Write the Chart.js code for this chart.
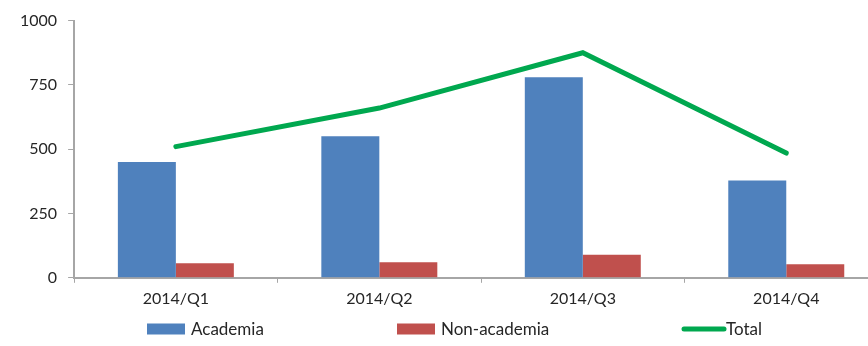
<!DOCTYPE html>
<html lang="en">
<head>
<meta charset="UTF-8">
<title>Academia vs Non-academia by Quarter</title>
<script src="https://cdn.jsdelivr.net/npm/chart.js"></script>
<style>
  body { margin: 0; background: #fff; overflow: hidden; }
  #wrap { width: 868px; height: 346px; overflow: hidden; }
</style>
</head>
<body>
<div id="wrap">
  <canvas id="chart" width="888" height="346"></canvas>
</div>

<script>
  // quarterly counts
  const quarters = ['2014/Q1', '2014/Q2', '2014/Q3', '2014/Q4'];
  const academia = [450, 550, 780, 378];
  const nonAcademia = [57, 60, 90, 53];
  const total = [510, 660, 875, 485];
  const yTicks = [0, 250, 500, 750, 1000];

  const axisGrey = '#a6a6a6';
  const textColor = '#262626';
  const fontFamily = 'Lato, "Liberation Sans", sans-serif';
  const font = { family: fontFamily, size: 16 };

  // legend laid out in fixed slots along the bottom, like the spreadsheet one
  const slotLegend = {
    id: 'slotLegend',
    afterDraw(chart, args, opts) {
      const ctx = chart.ctx;
      ctx.save();
      ctx.font = `${opts.fontSize}px ${fontFamily}`;
      ctx.textBaseline = 'middle';
      ctx.fillStyle = textColor;
      chart.data.datasets.forEach((ds, i) => {
        const x = opts.slots[i];
        const y = opts.y;
        if (ds.type === 'line') {
          ctx.strokeStyle = ds.borderColor;
          ctx.lineWidth = ds.borderWidth;
          ctx.lineCap = 'round';
          ctx.beginPath();
          ctx.moveTo(x + 2, y);
          ctx.lineTo(x + opts.boxWidth + 4, y);
          ctx.stroke();
        } else {
          ctx.fillStyle = ds.backgroundColor;
          ctx.fillRect(x, y - opts.boxHeight / 2, opts.boxWidth, opts.boxHeight);
        }
        ctx.fillStyle = textColor;
        ctx.fillText(ds.label, x + opts.boxWidth + 6, y + 1);
      });
      ctx.restore();
    }
  };

  new Chart(document.getElementById('chart'), {
    type: 'bar',
    data: {
      labels: quarters,
      datasets: [
        {
          label: 'Academia',
          data: academia,
          backgroundColor: '#4f81bd',
          borderWidth: 0,
          categoryPercentage: 0.57,
          barPercentage: 1.0
        },
        {
          label: 'Non-academia',
          data: nonAcademia,
          backgroundColor: '#c0504d',
          borderWidth: 0,
          categoryPercentage: 0.57,
          barPercentage: 1.0
        },
        {
          type: 'line',
          label: 'Total',
          data: total,
          borderColor: '#00a84f',
          backgroundColor: '#00a84f',
          borderWidth: 5,
          borderCapStyle: 'round',
          pointRadius: 0,
          tension: 0,
          fill: false,
          order: -1
        }
      ]
    },
    options: {
      responsive: false,
      animation: false,
      layout: { padding: { left: 9, right: 0, top: 16, bottom: 32 } },
      plugins: {
        tooltip: { enabled: false },
        legend: { display: false },
        slotLegend: {
          slots: [147, 397, 682],
          y: 329,
          boxWidth: 38,
          boxHeight: 11,
          fontSize: 17
        }
      },
      scales: {
        x: {
          offset: true,
          grid: {
            offset: true,
            drawOnChartArea: false,
            tickLength: 5,
            color: axisGrey
          },
          border: { color: axisGrey, width: 2 },
          ticks: { color: textColor, font: font, padding: 6 }
        },
        y: {
          min: 0,
          max: 1000,
          afterBuildTicks: axis => { axis.ticks = yTicks.map(v => ({ value: v })); },
          grid: {
            drawOnChartArea: false,
            tickLength: 6,
            color: axisGrey
          },
          border: { color: axisGrey, width: 2 },
          ticks: {
            color: textColor,
            font: font,
            padding: 11,
            callback: v => String(v)
          }
        }
      }
    },
    plugins: [slotLegend]
  });
</script>
</body>
</html>
